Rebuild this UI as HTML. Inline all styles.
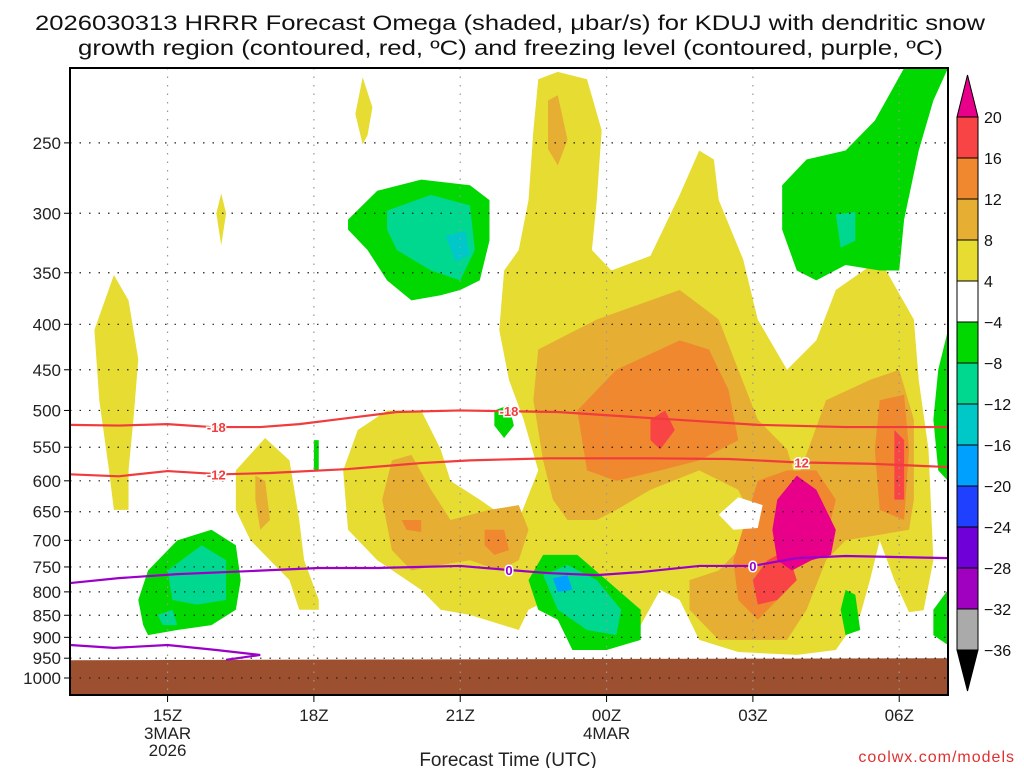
<!DOCTYPE html>
<html><head><meta charset="utf-8"><style>
body{margin:0;background:#fff;width:1024px;height:768px;overflow:hidden}
svg{font-family:"Liberation Sans",sans-serif}
</style></head><body>
<svg id="chart" width="1024" height="768" viewBox="0 0 1024 768" xmlns="http://www.w3.org/2000/svg">
<text x="35" y="30" font-size="21" fill="#111" textLength="950" lengthAdjust="spacingAndGlyphs">2026030313 HRRR Forecast Omega (shaded, μbar/s) for KDUJ with dendritic snow</text>
<text x="78" y="55" font-size="21" fill="#111" textLength="865" lengthAdjust="spacingAndGlyphs">growth region (contoured, red, ºC) and freezing level (contoured, purple, ºC)</text>
<g id="shade"></g>
<g id="grid"></g>
<g id="lines"></g>
<g id="axes"></g>
<g id="cbar"></g>
<text x="508" y="766" font-size="19" fill="#222" text-anchor="middle">Forecast Time (UTC)</text>
<text x="1015" y="762" font-size="16" fill="#e03030" text-anchor="end" letter-spacing="1">coolwx.com/models</text>
</svg>
<script>
const pLevels=[250,300,350,400,450,500,550,600,650,700,750,800,850,900,950,1000];
const xTicks=[15,18,21,24,27,30];
const xTickLabels=["15Z","18Z","21Z","00Z","03Z","06Z"];
const cbLevels=[20,16,12,8,4,-4,-8,-12,-16,-20,-24,-28,-32,-36];
const cbColors=["#f84444","#f08830","#e6ae32","#e6dc32","#ffffff","#00d800","#00d890","#00c8c8","#00a0ff","#2040ff","#7000d8","#a000c0","#aaaaaa"];
// shaded regions: [fillColor, [[hour, hPa], ...]]
const yellow="#e6dc32",gold="#e6ae32",orange="#f08830",red="#f84444",mag="#e8008a",green="#00d800",teal="#00d890",cyan="#00c8c8",lblue="#00a0ff";
const regionColors=[];
const regions=[];
function R(c,pts){regionColors.push(c);regions.push(pts);}
R(yellow,[[22.6,212],[23.0,208],[23.6,212],[23.9,242],[23.8,290],[23.7,330],[24.1,348],[24.9,335],[25.5,286],[25.9,255],[26.2,261],[26.3,290],[26.8,338],[27.1,395],[27.7,450],[28.3,417],[28.7,366],[29.6,338],[30.3,395],[30.4,462],[30.6,553],[30.7,737],[30.5,839],[30.2,843],[29.9,776],[29.6,700],[29.4,776],[29.2,850],[28.7,930],[27.9,942],[26.7,935],[25.9,906],[25.5,817],[25.1,796],[24.7,872],[24.2,918],[23.4,906],[22.8,817],[22.4,838],[22.2,883],[21.2,849],[20.6,838],[20.2,796],[19.3,737],[18.7,681],[18.6,584],[18.9,526],[19.5,500],[20.2,500],[20.6,553],[20.8,600],[21.4,630],[22.0,664],[22.2,664],[22.6,584],[22.3,512],[22.0,462],[21.8,406],[21.9,348],[22.2,330],[22.4,290],[22.5,242]]);
R(yellow,[[16.4,584],[17.0,537],[17.5,569],[17.7,664],[17.8,737],[18.1,817],[18.1,838],[17.7,838],[17.5,776],[17.1,737],[16.7,700],[16.4,647]]);
R(yellow,[[13.5,406],[13.9,352],[14.2,376],[14.4,438],[14.3,512],[14.2,584],[14.2,647],[13.9,647],[13.8,584],[13.6,487]]);
R(yellow,[[19.0,211],[19.2,228],[19.1,245],[19.0,251],[18.85,232]]);
R(yellow,[[16.0,300],[16.1,285],[16.2,300],[16.1,326]]);
R(gold,[[22.6,427],[23.8,395],[24.9,376],[25.5,366],[26.3,395],[26.7,450],[27.1,512],[27.7,553],[27.9,600],[28.5,487],[29.4,462],[30.0,450],[30.3,512],[30.3,630],[30.2,681],[29.6,690],[28.9,700],[28.5,737],[28.1,838],[27.7,906],[26.3,906],[25.7,838],[25.7,776],[26.3,757],[27.1,681],[26.7,614],[25.9,584],[24.9,614],[24.2,647],[23.8,664],[23.2,664],[22.9,630],[22.7,569],[22.5,487]]);
R(gold,[[19.6,569],[20.0,561],[20.4,614],[20.8,664],[21.6,647],[22.2,639],[22.4,681],[22.2,737],[21.8,757],[21.2,737],[20.6,746],[20.0,757],[19.6,718],[19.4,630]]);
R(gold,[[22.8,224],[23.0,221],[23.2,248],[23.0,265],[22.8,254]]);
R(gold,[[16.8,592],[17.0,600],[17.1,664],[16.9,681],[16.8,630]]);
R(orange,[[23.4,500],[24.2,450],[25.5,417],[26.1,427],[26.5,474],[26.7,540],[25.9,569],[25.1,584],[24.2,600],[23.6,584]]);
R(orange,[[27.1,600],[27.7,584],[28.3,584],[28.7,630],[28.5,700],[27.9,737],[27.5,817],[27.1,860],[26.7,817],[26.6,737]]);
R(orange,[[29.6,487],[30.1,480],[30.2,553],[30.1,664],[29.6,647],[29.5,553]]);
R(orange,[[19.8,664],[20.2,664],[20.2,685],[19.9,681]]);
R(orange,[[21.5,681],[21.9,681],[22.0,718],[21.7,727],[21.5,709]]);
R(red,[[24.9,512],[25.2,500],[25.4,526],[25.1,553],[24.9,540]]);
R(red,[[27.0,776],[27.3,737],[27.7,718],[27.9,776],[27.5,817],[27.1,827]]);
R(red,[[29.9,526],[30.1,540],[30.1,630],[29.9,630]]);
R(mag,[[27.5,630],[27.9,592],[28.3,614],[28.7,681],[28.6,727],[28.2,737],[27.8,757],[27.5,737],[27.4,681]]);
R("#ffffff",[[26.3,655],[26.7,626],[27.2,639],[27.1,678],[26.6,681]]);
R(green,[[18.7,305],[19.3,283],[20.2,275],[21.2,279],[21.6,290],[21.6,322],[21.4,357],[21.0,366],[20.6,371],[20.0,376],[19.5,357],[19.1,330],[18.7,313]]);
R(teal,[[19.5,298],[20.4,286],[21.2,294],[21.3,330],[21.0,357],[20.4,348],[19.7,330],[19.5,313]]);
R(cyan,[[20.7,318],[21.1,314],[21.2,334],[20.9,340]]);
R(green,[[14.4,817],[14.6,757],[15.2,700],[15.9,681],[16.4,709],[16.5,776],[16.4,838],[15.9,872],[15.2,883],[14.6,895],[14.5,872]]);
R(teal,[[15.0,757],[15.7,709],[16.2,737],[16.2,817],[15.6,827],[15.1,817]]);
R(teal,[[14.8,849],[15.1,838],[15.2,872],[14.9,872]]);
R(green,[[22.4,776],[22.7,727],[23.4,727],[24.0,776],[24.7,838],[24.7,906],[24.0,930],[23.3,930],[23.0,860],[22.6,838]]);
R(teal,[[22.7,766],[23.2,746],[23.8,776],[24.3,838],[24.2,895],[23.6,883],[23.0,838]]);
R(lblue,[[22.9,772],[23.2,766],[23.3,796],[23.0,800]]);
R(green,[[27.6,279],[28.1,261],[28.9,255],[29.5,236],[30.1,206],[31.0,206],[30.7,224],[30.4,255],[30.1,305],[30.0,348],[29.6,348],[28.9,343],[28.3,357],[27.9,348],[27.6,313]]);
R(teal,[[28.7,301],[29.1,299],[29.1,322],[28.8,328]]);
R(green,[[21.7,500],[22.0,493],[22.1,520],[21.9,537],[21.7,520]]);
R(green,[[18.0,540],[18.1,540],[18.1,584],[18.0,584]]);
R(green,[[28.9,796],[29.1,806],[29.2,883],[28.9,895],[28.8,838]]);
R(green,[[31.0,406],[30.8,450],[30.7,512],[30.8,584],[31.0,600]]);
R(green,[[31.0,796],[30.7,838],[30.7,895],[31.0,918]]);
const groundTop=[[13,955],[31,950]];
const iso18Hours=[13.0,14.0,15.0,15.9,16.9,17.7,18.7,19.7,21.0,22.0,23.0,24.9,27.1,28.9,31.0];
const iso18P=[519,520,518,522,522,518,510,502,500,501,502,510,519,522,522];
const iso12Hours=[13.0,14.0,15.0,16.1,17.1,18.7,20.2,21.2,22.8,24.9,26.5,27.9,29.4,31.0];
const iso12P=[590,593,585,590,588,582,573,569,566,566,567,572,574,579];
const frzHours=[13.0,14.0,15.2,16.7,18.1,19.3,21.0,22.0,22.8,23.8,24.7,25.9,27.0,27.9,28.9,31.0];
const frzP=[782,772,764,758,752,752,748,756,762,766,760,748,748,733,729,733];
const frz2Hours=[13.0,13.9,15.0,16.0,16.9,16.2];
const frz2P=[918,925,918,930,942,954];

const L=70,Rt=948,T=68,B=695;
const xs=h=>L+(h-13)*(Rt-L)/18;
const ys=p=>678+386*Math.log(p/1000);
const NS="http://www.w3.org/2000/svg";
function mk(tag,attrs,parent){const e=document.createElementNS(NS,tag);for(const k in attrs)e.setAttribute(k,attrs[k]);parent.appendChild(e);return e;}
const svg=document.getElementById('chart');
const clip=mk('clipPath',{id:'pc'},mk('defs',{},svg));
mk('rect',{x:L,y:T,width:Rt-L,height:B-T},clip);
const shade=document.getElementById('shade');shade.setAttribute('clip-path','url(#pc)');
regions.forEach((pts,i)=>{
  const el=mk('polygon',{points:pts.map(q=>xs(q[0])+','+ys(q[1])).join(' '),fill:regionColors[i]},shade);
  
  
});
const g=mk('polygon',{points:groundTop.map(q=>xs(q[0])+','+ys(q[1])).join(' ')+' '+Rt+','+B+' '+L+','+B,fill:'#9c5030'},shade);


const grid=document.getElementById('grid');
const axes=document.getElementById('axes');
pLevels.forEach(p=>{
  const y=ys(p);
  const gl=mk('line',{x1:L,x2:Rt,y1:y,y2:y,stroke:'#222','stroke-width':1.2,'stroke-dasharray':'1.5 8'},grid);
  
  
  mk('line',{x1:L-6,x2:L,y1:y,y2:y,stroke:'#000','stroke-width':1},axes);
  const t=mk('text',{x:L-9,y:y+6,'font-size':17,'text-anchor':'end',fill:'#222'},axes);
  t.textContent=p;
  
  
});
xTicks.forEach((h,i)=>{
  const x=xs(h);
  const gl=mk('line',{x1:x,x2:x,y1:T,y2:B,stroke:'#999','stroke-width':1.2,'stroke-dasharray':'1.5 7'},grid);
  
  
  mk('line',{x1:x,x2:x,y1:B,y2:B+7,stroke:'#000','stroke-width':1},axes);
  const t=mk('text',{x:x,y:721,'font-size':17,'text-anchor':'middle',fill:'#222'},axes);
  t.textContent=xTickLabels[i];
  
  
});
[["3MAR",15],["2026",15],["4MAR",24]].forEach((d,i)=>{
  const t=mk('text',{x:xs(d[1]),y:(d[0]==="2026"?756:739),'font-size':17,'text-anchor':'middle',fill:'#222'},axes);
  t.textContent=d[0];
  
  
});
mk('rect',{x:L,y:T,width:Rt-L,height:B-T,fill:'none',stroke:'#000','stroke-width':2},axes);
const lines=document.getElementById('lines');lines.setAttribute('clip-path','url(#pc)');
function line(hs,ps,col,name){
  const el=mk('polyline',{points:hs.map((h,i)=>xs(h)+','+ys(ps[i])).join(' '),fill:'none',stroke:col,'stroke-width':2.2},lines);
  
  
}
line(iso18Hours,iso18P,'#f03c3c','isotherm-minus-18');
line(iso12Hours,iso12P,'#f03c3c','isotherm-minus-12');
line(frzHours,frzP,'#9a00c8','freezing-level');
line(frz2Hours,frz2P,'#9a00c8','freezing-level-lower');
function lab(txt,h,p,col){
  const t=mk('text',{x:xs(h),y:ys(p)+5,'font-size':13,'font-weight':'bold','text-anchor':'middle',fill:col,stroke:'#fff','stroke-width':3,'paint-order':'stroke'},lines);
  t.textContent=txt;
  
  
}
lab('-18',16.0,522,'#f03c3c');lab('-18',22.0,501,'#f03c3c');
lab('-12',16.0,590,'#f03c3c');lab('12',28.0,572,'#f03c3c');
lab('0',22.0,756,'#9a00c8');lab('0',27.0,748,'#9a00c8');
// colorbar
const cb=document.getElementById('cbar');
const cx0=957,cw=21,cy0=117,step=(650-117)/13;
cbColors.forEach((c,i)=>{
  const r=mk('rect',{x:cx0,y:cy0+i*step,width:cw,height:step,fill:c,stroke:'#000','stroke-width':1},cb);
  
  
});
mk('polygon',{points:`${cx0},${cy0} ${cx0+cw},${cy0} ${cx0+cw/2},75`,fill:'#e8008a',stroke:'#000','stroke-width':1},cb);
mk('polygon',{points:`${cx0},650 ${cx0+cw},650 ${cx0+cw/2},691`,fill:'#000',stroke:'#000','stroke-width':1},cb);
cbLevels.forEach((v,i)=>{
  const t=mk('text',{x:984,y:cy0+i*step+6,'font-size':16,fill:'#111'},cb);
  t.textContent=v<0?'\u2212'+(-v):String(v);
  
  
});
</script>
</body></html>
